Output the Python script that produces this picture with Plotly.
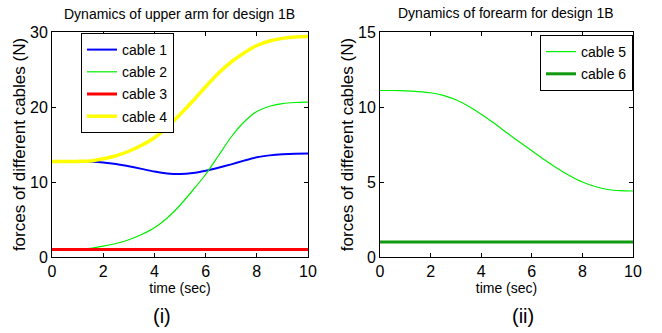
import plotly.graph_objects as go

t = [0, 0.5, 1, 1.5, 2, 2.5, 3, 3.5, 4, 4.5, 5, 5.5, 6, 6.5, 7, 7.5, 8, 8.5, 9, 9.5, 10]

cable1 = [12.75, 12.75, 12.75, 12.7, 12.6, 12.4, 12.1, 11.75, 11.4, 11.15, 11.07,
          11.2, 11.5, 11.9, 12.35, 12.85, 13.3, 13.55, 13.7, 13.78, 13.8]
cable2 = [1.0, 1.0, 1.05, 1.15, 1.45, 1.8, 2.3, 3.0, 3.9, 5.2, 6.9,
          8.9, 11.0, 13.5, 16.0, 18.0, 19.4, 20.1, 20.45, 20.6, 20.65]
cable3 = [1.0] * len(t)
cable4 = [12.75, 12.75, 12.75, 12.8, 13.1, 13.5, 14.1, 14.9, 15.9, 17.3, 19.0,
          20.8, 22.7, 24.5, 26.0, 27.2, 28.2, 28.8, 29.15, 29.35, 29.4]

cable5 = [11.1, 11.1, 11.08, 11.03, 10.95, 10.78, 10.48, 10.05, 9.52, 8.93, 8.3,
          7.68, 7.08, 6.48, 5.92, 5.42, 5.0, 4.7, 4.5, 4.42, 4.4]
cable6 = [1.0] * len(t)

xticks = [0, 2, 4, 6, 8, 10]
yticks_left = [0, 10, 20, 30]
yticks_right = [0, 5, 10, 15]

FONT = "Liberation Sans"

fig = go.Figure()

def add(x, y, name, color, width, xa, ya, legend):
    fig.add_trace(go.Scatter(x=x, y=y, name=name, mode="lines",
                             line=dict(color=color, width=width, shape="spline", smoothing=0.6),
                             xaxis=xa, yaxis=ya, legend=legend, legendgroup=name))

add(t, cable1, "cable 1", "#0000ff", 2, "x", "y", "legend")
add(t, cable2, "cable 2", "#00ee00", 1.2, "x", "y", "legend")
add(t, cable3, "cable 3", "#ff0000", 3, "x", "y", "legend")
add(t, cable4, "cable 4", "#ffff00", 3.5, "x", "y", "legend")
add(t, cable5, "cable 5", "#00ee00", 1.2, "x2", "y2", "legend2")
add(t, cable6, "cable 6", "#109a10", 3, "x2", "y2", "legend2")

axis_common = dict(showline=True, linecolor="black", linewidth=1, mirror="ticks",
                   ticks="inside", ticklen=4, tickcolor="black", showgrid=False,
                   zeroline=False, automargin=False,
                   tickfont=dict(family=FONT, size=16, color="black"))

xtitle = dict(text="time (sec)", font=dict(family=FONT, size=14), standoff=3)
ytitle = dict(text="forces of different cables (N)", font=dict(family=FONT, size=17), standoff=0)

W, H = 662, 333
fig.update_layout(
    width=W, height=H, margin=dict(l=0, r=0, t=0, b=0, autoexpand=False),
    paper_bgcolor="white", plot_bgcolor="white",
    font=dict(family=FONT, color="black"),
    xaxis=dict(domain=[52 / W, 308 / W], range=[0, 10], tickvals=xticks, anchor="y",
               title=xtitle, **axis_common),
    yaxis=dict(domain=[(H - 257) / H, (H - 32) / H], range=[0, 30], tickvals=yticks_left, anchor="x",
               title=ytitle, **axis_common),
    xaxis2=dict(domain=[380 / W, 633 / W], range=[0, 10], tickvals=xticks, anchor="y2",
                title=xtitle, **axis_common),
    yaxis2=dict(domain=[(H - 257) / H, (H - 32) / H], range=[0, 15], tickvals=yticks_right, anchor="x2",
                title=ytitle, **axis_common),
    legend=dict(x=81 / W, y=1 - 33 / H, xanchor="left", yanchor="top",
                bordercolor="black", borderwidth=1, bgcolor="white",
                font=dict(family=FONT, size=14), itemwidth=30, tracegroupgap=1),
    legend2=dict(x=633 / W, y=1 - 35 / H, xanchor="right", yanchor="top",
                 bordercolor="black", borderwidth=1, bgcolor="white",
                 font=dict(family=FONT, size=14), itemwidth=30, tracegroupgap=1),
    showlegend=True,
    annotations=[
        dict(text="Dynamics of upper arm for design 1B", x=179 / W, y=1 - 14 / H, xref="paper", yref="paper",
             xanchor="center", yanchor="middle", showarrow=False, font=dict(family=FONT, size=14)),
        dict(text="Dynamics of forearm for design 1B", x=506 / W, y=1 - 13 / H, xref="paper", yref="paper",
             xanchor="center", yanchor="middle", showarrow=False, font=dict(family=FONT, size=14)),
        dict(text="(i)", x=162 / W, y=1 - 316 / H, xref="paper", yref="paper",
             xanchor="center", yanchor="middle", showarrow=False, font=dict(family=FONT, size=20)),
        dict(text="(ii)", x=523 / W, y=1 - 316 / H, xref="paper", yref="paper",
             xanchor="center", yanchor="middle", showarrow=False, font=dict(family=FONT, size=20)),
    ],
)

fig.write_html("out.html")
